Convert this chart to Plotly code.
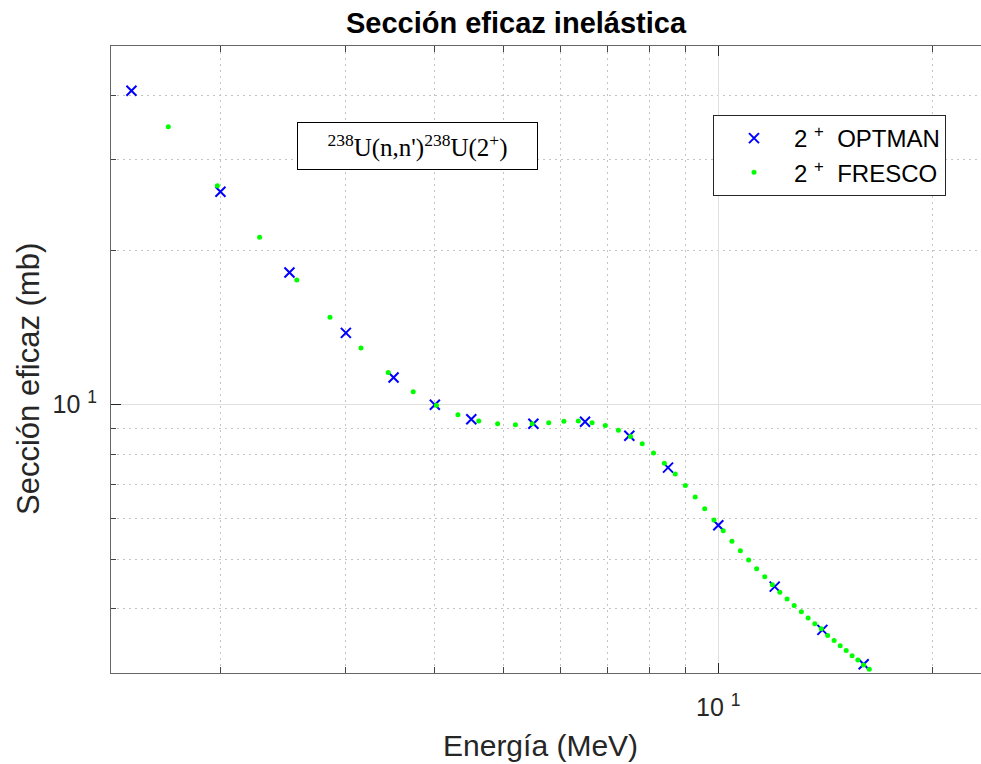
import plotly.graph_objects as go
import math

# OPTMAN (blue crosses)
optman_E = [1.5, 2.0, 2.5, 3.0, 3.5, 4.0, 4.5, 5.5, 6.5, 7.5, 8.5, 10.0, 12.0, 14.0, 16.0]
optman_sigma = [40.9, 26.0, 18.1, 13.8, 11.3, 10.0, 9.37, 9.18, 9.26, 8.70, 7.54, 5.82, 4.42, 3.64, 3.12]

# FRESCO (green dots)
fresco_E = [1.69, 1.98, 2.27, 2.56, 2.85, 3.15, 3.44, 3.73, 4.02, 4.31,
            4.61, 4.90, 5.19, 5.48, 5.78, 6.07, 6.36, 6.65, 6.94, 7.24,
            7.53, 7.82, 8.11, 8.40, 8.70, 8.99, 9.28, 9.57, 9.86, 10.16,
            10.45, 10.74, 11.03, 11.32, 11.62, 11.91, 12.20, 12.49, 12.78, 13.08,
            13.37, 13.66, 13.95, 14.24, 14.54, 14.83, 15.12, 15.41, 15.70, 15.99,
            16.29]
fresco_sigma = [34.8, 26.7, 21.2, 17.5, 14.8, 12.9, 11.55, 10.6, 9.97, 9.56,
                9.29, 9.18, 9.14, 9.18, 9.22, 9.28, 9.29, 9.22, 9.11, 8.92,
                8.67, 8.39, 8.05, 7.69, 7.33, 6.96, 6.61, 6.27, 5.96, 5.68,
                5.42, 5.19, 4.98, 4.79, 4.62, 4.46, 4.31, 4.18, 4.06, 3.95,
                3.84, 3.74, 3.66, 3.55, 3.47, 3.39, 3.32, 3.24, 3.18, 3.11,
                3.05]

x_major = [10]
x_minor = [2, 3, 4, 5, 6, 7, 8, 9, 20]
y_major = [10]
y_minor = [4, 5, 6, 7, 8, 9, 20, 30, 40]
major_label = ["10 <sup>1</sup>"]

W, H = 981, 764
ML, MR, MT, MB = 111, 0, 46, 91
PW, PH = W - ML - MR, H - MT - MB

def px_x(p):
    return (p - ML) / PW

def px_y(p):
    return (H - MB - p) / PH

FONT = "Liberation Sans, Arial, sans-serif"

fig = go.Figure()
fig.add_trace(go.Scatter(
    x=optman_E, y=optman_sigma, mode="markers", name="2 <sup>+</sup>  OPTMAN",
    marker=dict(symbol="x-thin", size=10, color="#0000ff",
                line=dict(color="#0000ff", width=2))))
fig.add_trace(go.Scatter(
    x=fresco_E, y=fresco_sigma, mode="markers", name="2 <sup>+</sup>  FRESCO",
    marker=dict(symbol="circle", size=5, color="#00ff00", line=dict(width=0))))

axis_common = dict(
    type="log", showline=True, linecolor="#666666", linewidth=1,
    ticks="inside", tickcolor="#262626", tickwidth=1,
    showgrid=True, gridcolor="#e0e0e0", gridwidth=1,
    tickfont=dict(family=FONT, size=25, color="#262626"),
    zeroline=False,
)

fig.update_xaxes(
    **axis_common,
    range=[0.1474, 1.3688],
    tickmode="array", tickvals=x_major, ticktext=major_label, ticklen=10,
    mirror="allticks", ticklabelstandoff=12,
    minor=dict(tickvals=x_minor, ticks="inside", ticklen=6, tickcolor="#444444",
               showgrid=True, griddash="2px,4px", gridcolor="#c4c4c4", gridwidth=1),
)
fig.update_yaxes(
    **axis_common,
    range=[math.log10(3), math.log10(50)],
    tickmode="array", tickvals=y_major, ticktext=major_label, ticklen=10,
    mirror=False, ticklabelstandoff=8,
    minor=dict(tickvals=y_minor, ticks="inside", ticklen=5, tickcolor="#444444",
               showgrid=True, griddash="2px,4px", gridcolor="#c4c4c4", gridwidth=1),
)

fig.update_layout(
    width=W, height=H,
    margin=dict(l=ML, r=MR, t=MT, b=MB, pad=0),
    paper_bgcolor="white", plot_bgcolor="white",
    font=dict(family=FONT, color="#262626"),
    title=dict(text="<b>Sección eficaz inelástica</b>", x=516 / W, xanchor="center",
               y=1 - 23 / H, yanchor="middle",
               font=dict(family=FONT, size=29, color="black")),
    showlegend=True,
    legend=dict(x=px_x(713), y=px_y(115), xanchor="left", yanchor="top",
                bgcolor="white", bordercolor="#262626", borderwidth=1,
                font=dict(family=FONT, size=24, color="black"),
                itemwidth=70),
    annotations=[
        dict(text="<sup>238</sup>U(n,n')<sup>238</sup>U(2<sup>+</sup>)",
             xref="paper", yref="paper", x=px_x(417), y=px_y(146),
             xanchor="center", yanchor="middle", showarrow=False,
             font=dict(family="Liberation Serif, DejaVu Serif, serif", size=25, color="black"),
             bordercolor="black", borderwidth=1, borderpad=0,
             bgcolor="white", width=239, height=46),
        dict(text="Energía (MeV)", xref="paper", yref="paper",
             x=px_x(540), y=px_y(745), xanchor="center", yanchor="middle",
             showarrow=False, font=dict(family=FONT, size=30, color="#262626")),
        dict(text="Sección eficaz (mb)", xref="paper", yref="paper",
             x=px_x(28), y=px_y(379), xanchor="center", yanchor="middle",
             textangle=-90, showarrow=False,
             font=dict(family=FONT, size=31, color="#262626")),
    ],
)

fig.write_html("out.html")
